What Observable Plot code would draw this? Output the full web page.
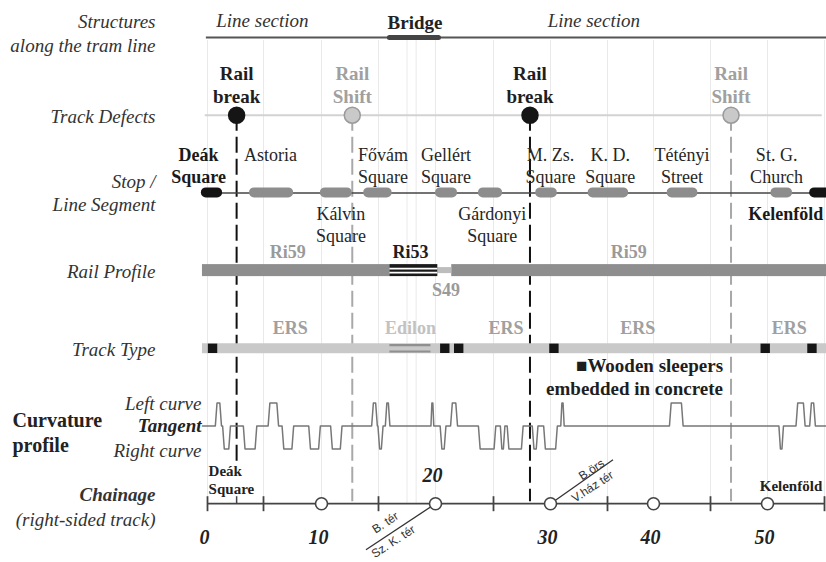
<!DOCTYPE html>
<html><head><meta charset="utf-8">
<script src="https://cdn.jsdelivr.net/npm/d3@7"></script>
<script src="https://cdn.jsdelivr.net/npm/@observablehq/plot@0.6"></script>
<style>html,body{margin:0;padding:0;background:#fff;} svg{display:block;}</style>
</head><body><div id="chart"></div>
<script>
// ================= DATA =================
// Chainage axis (schematic, piecewise)
const chainStops = [0,5,10,15,20,25,30,35,40,45,50,55];
const chainTicks = [0,5,15,25,35,45,55];
const chainCircles = [10,20,30,40,50];
const chainLabels = ["0","10","20","30","40","50"];
const chainLabelAt = [0,10,20,30,40,50];
const gridAt = [0,5,10,15,17.5,18.3,20,25,30,35,40,45,50,55];

// Structures
const sectionLabels = ["Line section","Bridge","Line section"];
const sectionLabelAt = [4.9,18.2,33.8];
const sectionKind = ["line","bridge","line"];
const bridgeSpan = [16.0,20.3];

// Track defects
const defectLabels = ["Rail\nbreak","Rail\nShift","Rail\nbreak","Rail\nShift"];
const defectKind = ["break","shift","break","shift"];
const defectAt = [2.6,12.7,28.2,46.8];

// Stops / line segments
const stopNames = ["Deák\nSquare","Astoria","Kálvin\nSquare","Fővám\nSquare","Gellért\nSquare","Gárdonyi\nSquare","M. Zs.\nSquare","K. D.\nSquare","Tétényi\nStreet","St. G.\nChurch","Kelenföld"];
const stopFrom = [-0.55,3.75,9.9,13.7,20.0,23.7,28.7,33.3,41.2,50.3,53.7];
const stopTo   = [1.35,7.6,12.7,16.2,21.9,25.8,30.6,37.3,43.9,52.2,55.6];
const stopTerminal = [true,false,false,false,false,false,false,false,false,false,true];
const stopLabelAt = [-0.8,5.6,11.7,15.4,20.9,24.9,30.0,35.3,42.5,50.8,51.6];
const stopLabelSide = ["above","above","below","above","above","below","above","above","above","above","below"];

// Rail profile
const railType = ["Ri59","Ri53","S49","Ri59"];
const railFrom = [-0.45,16.0,20.2,21.4];
const railTo   = [16.0,20.2,21.4,55.3];
const railLabels = ["Ri59","Ri53","S49","Ri59"];
const railLabelAt = [7.1,17.8,20.9,37.3];
const railLabelSide = ["above","above","below","above"];

// Track type
const trackSpan = [-0.45,55.3];
const edilonSpan = [16.0,19.6];
const sleeperAt = [0.45,20.8,22.0,30.3,49.8,53.9];
const trackLabels = ["ERS","Edilon","ERS","ERS","ERS"];
const trackLabelAt = [7.3,17.8,26.1,38.3,51.9];
const sleeperNote = "■Wooden sleepers\nembedded in concrete";
const sleeperNoteAt = 46.1;

// Curvature profile: +1 left curve, -1 right curve
const curveFrom = [0.7,1.35,3.2,5.4,6.6,8.9,10.8,14.4,14.95,15.6,19.6,20.4,21.3,23.7,25.6,26.2,28.4,29.4,30.9,41.4,51.0,52.5,53.7];
const curveTo   = [1.25,2.05,4.4,6.3,7.6,9.9,11.8,14.9,15.4,16.0,19.85,20.9,21.9,25.2,26.0,27.6,28.9,30.6,31.2,42.6,51.4,53.3,54.2];
const curveDir  = [1,-1,-1,1,-1,-1,-1,1,-1,1,1,-1,1,-1,-1,-1,-1,-1,1,1,-1,1,1];

// Interchange notes on chainage
const xferAt = [20,30];
const xferTop = ["B. tér","B.örs"];
const xferBottom = ["Sz. K. tér","V.ház tér"];

// ================= LAYOUT =================
const X_RANGE = [207,263,321,378,435,493,550,607,653,710,767,824];
const ROW_TOP = 37, ROW_BOTTOM = 503.2, ROW_H = (ROW_BOTTOM - ROW_TOP) / 6;
const o = px => px / ROW_H;
const R = {structures:0, defects:1, stops:2, rail:3, track:4, curve:5, chain:6};
const SERIF = "'Liberation Serif','Times New Roman',serif";
const SANS = "'Liberation Sans',Arial,sans-serif";
const INK = "#262626";

// ---- derived tables ----
const sections = sectionLabels.map((t,i)=>({t, x:sectionLabelAt[i], k:sectionKind[i]}));
const defects = defectLabels.map((t,i)=>({t, k:defectKind[i], x:defectAt[i], i}));
const stops = stopNames.map((t,i)=>({t, x1:stopFrom[i], x2:stopTo[i], term:stopTerminal[i], lx:stopLabelAt[i], side:stopLabelSide[i]}));
const rails = railType.map((t,i)=>({t, x1:railFrom[i], x2:railTo[i]}));
const railLbl = railLabels.map((t,i)=>({t, x:railLabelAt[i], side:railLabelSide[i]}));
const trackLbl = trackLabels.map((t,i)=>({t, x:trackLabelAt[i]}));
const curvePts = [{x:-0.45, v:0}];
curveFrom.forEach((s,i)=>{
  const e = curveTo[i], d = Math.min(0.15,(e-s)/3), v = curveDir[i];
  curvePts.push({x:s,v:0},{x:s+d,v},{x:e-d,v},{x:e,v:0});
});
curvePts.push({x:55.3, v:0});
const chainLbl = chainLabels.map((t,i)=>({t, x:chainLabelAt[i]}));
const xfer = xferAt.map((x,i)=>({x, top:xferTop[i], bottom:xferBottom[i]}));

const left = (text, y, opts={}) => Plot.text([text], {text:d=>d, y:()=>y, frameAnchor:"left", dx:155, textAnchor:"end", fontSize:19, fontStyle:"italic", fill:"#333", lineAnchor:"middle", lineHeight:1.25, ...opts});
const stopY = d => d.side==="above" ? R.stops - o(47) : R.stops + o(12);

const chart = Plot.plot({
  width: 826, height: 562, margin: 0,
  x: {type:"linear", domain: chainStops, range: X_RANGE, axis: null},
  y: {type:"linear", domain: [0,6], range: [ROW_TOP, ROW_BOTTOM], axis: null},
  style: {fontFamily: SERIF, background: "#fff", overflow: "visible"},
  marks: [
    // faint grid
    Plot.ruleX(gridAt, {x:d=>d, y1:()=>R.structures+o(3), y2:()=>R.chain, stroke:"#e9e9e9", strokeWidth:1}),

    // ---- Structures ----
    Plot.ruleY([0], {x1:()=>-0.1, x2:()=>55.3, y:()=>R.structures, stroke:"#555", strokeWidth:2}),
    Plot.ruleY([bridgeSpan], {x1:d=>d[0], x2:d=>d[1], y:()=>R.structures, stroke:"#444", strokeWidth:5, strokeLinecap:"round"}),
    Plot.text(sections.filter(d=>d.k!=="bridge"), {x:"x", y:()=>R.structures - o(17), text:"t", fontSize:19, fontStyle:"italic", fill:"#333"}),
    Plot.text(sections.filter(d=>d.k==="bridge"), {x:"x", y:()=>R.structures - o(15), text:"t", fontSize:19, fontWeight:"bold", fill:"#222"}),
    left("Structures\nalong the tram line", R.structures - o(5)),

    // ---- Track defects ----
    Plot.ruleY([0], {x1:()=>-0.2, x2:()=>54.8, y:()=>R.defects, stroke:"#d2d2d2", strokeWidth:2}),
    Plot.ruleX(defects, {x:"x", y1:()=>R.defects, y2:d=>d.i===0 ? R.chain - o(38) : R.chain - o(2),
      stroke:d=>d.k==="break"?"#111":"#a8a8a8", strokeWidth:2, strokeDasharray:"16,6"}),
    Plot.dot(defects, {x:"x", y:()=>R.defects, r:8, fill:d=>d.k==="break"?"#151515":"#c9c9c9",
      stroke:d=>d.k==="break"?"#151515":"#9a9a9a", strokeWidth:1.5}),
    Plot.text(defects, {x:"x", y:()=>R.defects - o(31), text:"t", fontSize:19, fontWeight:"bold", lineHeight:1.2,
      fill:d=>d.k==="break"?"#1e1e1e":"#a0a0a0"}),
    left("Track Defects", R.defects),

    // ---- Stops ----
    Plot.ruleY([0], {x1:()=>-0.2, x2:()=>55.3, y:()=>R.stops, stroke:"#444", strokeWidth:1.5}),
    Plot.rect(stops, {x1:"x1", x2:"x2", y1:()=>R.stops - o(5), y2:()=>R.stops + o(5), rx:5,
      fill:d=>d.term?"#141414":"#8d8d8d"}),
    Plot.text(stops.filter(d=>!d.term), {x:"lx", y:stopY, text:"t", lineAnchor:"top", lineHeight:1.22, fontSize:18, fill:INK}),
    Plot.text(stops.filter(d=>d.term), {x:"lx", y:stopY, text:"t", lineAnchor:"top", lineHeight:1.22, fontSize:18, fill:"#1a1a1a", fontWeight:"bold"}),
    left("Stop /\nLine Segment", R.stops - o(1), {lineHeight:1.2}),

    // ---- Rail profile ----
    Plot.rect(rails.filter(d=>d.t==="Ri59"), {x1:"x1", x2:"x2", y1:()=>R.rail - o(6), y2:()=>R.rail + o(6), fill:"#8e8e8e"}),
    Plot.rect(rails.filter(d=>d.t==="S49"), {x1:"x1", x2:"x2", y1:()=>R.rail - o(3), y2:()=>R.rail + o(3), fill:"#bdbdbd"}),
    Plot.rect(rails.filter(d=>d.t==="Ri53"), {x1:"x1", x2:"x2", y1:()=>R.rail - o(6), y2:()=>R.rail + o(6), fill:"#1a1a1a"}),
    Plot.ruleY(rails.filter(d=>d.t==="Ri53"), {x1:"x1", x2:"x2", y:()=>R.rail - o(2), stroke:"#fff", strokeWidth:1.6}),
    Plot.ruleY(rails.filter(d=>d.t==="Ri53"), {x1:"x1", x2:"x2", y:()=>R.rail + o(2), stroke:"#fff", strokeWidth:1.6}),
    Plot.text(railLbl, {x:"x", y:d=>d.side==="above" ? R.rail - o(18) : R.rail + o(20), text:"t", fontSize:18, fontWeight:"bold",
      fill:d=>d.t==="Ri53" ? "#1e1e1e" : "#9a9a9a"}),
    left("Rail Profile", R.rail),

    // ---- Track type ----
    Plot.ruleY([trackSpan], {x1:d=>d[0], x2:d=>d[1], y:()=>R.track, stroke:"#c9c9c9", strokeWidth:10}),
    Plot.ruleY([edilonSpan], {x1:d=>d[0], x2:d=>d[1], y:()=>R.track - o(3.2), stroke:"#8f8f8f", strokeWidth:2.2}),
    Plot.ruleY([edilonSpan], {x1:d=>d[0], x2:d=>d[1], y:()=>R.track + o(3.2), stroke:"#8f8f8f", strokeWidth:2.2}),
    Plot.dot(sleeperAt, {x:d=>d, y:()=>R.track, symbol:"square", r:5.3, fill:"#161616"}),
    Plot.text(trackLbl, {x:"x", y:()=>R.track - o(20), text:"t", fontSize:18, fontWeight:"bold",
      fill:d=>d.t==="Edilon" ? "#c2c2c2" : "#a0a0a0"}),
    Plot.text([sleeperNote], {x:()=>sleeperNoteAt, y:()=>R.track + o(28), text:d=>d, textAnchor:"end", fontSize:19,
      fontWeight:"bold", fill:"#1e1e1e", lineHeight:1.17}),
    left("Track Type", R.track),

    // ---- Curvature ----
    Plot.line(curvePts, {x:"x", y:d=>R.curve - d.v*o(23), stroke:"#777", strokeWidth:1.5}),
    Plot.text(["Left curve"], {text:d=>d, y:()=>R.curve - o(22.5), frameAnchor:"left", dx:201, textAnchor:"end", fontSize:19, fontStyle:"italic", fill:"#333"}),
    Plot.text(["Tangent"], {text:d=>d, y:()=>R.curve, frameAnchor:"left", dx:201, textAnchor:"end", fontSize:19, fontStyle:"italic", fontWeight:"bold", fill:"#222"}),
    Plot.text(["Right curve"], {text:d=>d, y:()=>R.curve + o(24.5), frameAnchor:"left", dx:201, textAnchor:"end", fontSize:19, fontStyle:"italic", fill:"#333"}),
    Plot.text(["Curvature\nprofile"], {text:d=>d, y:()=>R.curve + o(5), frameAnchor:"left", dx:12, textAnchor:"start", fontSize:20, fontWeight:"bold", fill:"#222", lineHeight:1.25}),

    // ---- Chainage ----
    Plot.ruleY([0], {x1:()=>0, x2:()=>55, y:()=>R.chain, stroke:"#444", strokeWidth:1.8}),
    Plot.ruleX(chainTicks, {x:d=>d, y1:()=>R.chain - o(7), y2:()=>R.chain + o(8), stroke:"#444", strokeWidth:1.8}),
    Plot.ruleX([defectAt[0]], {x:d=>d, y1:()=>R.chain - o(7), y2:()=>R.chain, stroke:"#444", strokeWidth:1.5}),
    Plot.link(xfer, {x1:"x", y1:()=>R.chain, x2:d=>d.x===20 ? 13.9 : 35.6, y2:d=>d.x===20 ? R.chain + o(46) : R.chain - o(44), stroke:"#333", strokeWidth:1.3}),
    Plot.dot(chainCircles, {x:d=>d, y:()=>R.chain, r:6, fill:"#fff", stroke:"#444", strokeWidth:1.6}),
    Plot.text(xfer, {x:d=>d.x===20 ? 15.6 : 33.6, y:d=>d.x===20 ? R.chain + o(19) : R.chain - o(34), text:"top", rotate:-33, fontSize:12, fontFamily:SANS, fill:"#333"}),
    Plot.text(xfer, {x:d=>d.x===20 ? 16.3 : 33.7, y:d=>d.x===20 ? R.chain + o(38) : R.chain - o(17), text:"bottom", rotate:-33, fontSize:12, fontFamily:SANS, fill:"#333"}),
    Plot.text(chainLbl, {x:"x", y:d=>d.t==="20" ? R.chain - o(28) : R.chain + o(34), dx:-3, text:"t", fontSize:20, fontWeight:"bold", fontStyle:"italic", fill:"#222"}),
    Plot.text(["Deák\nSquare"], {x:()=>0.1, y:()=>R.chain - o(24), text:d=>d, textAnchor:"start", fontSize:15, fontWeight:"bold", fill:"#222", lineHeight:1.2}),
    Plot.text(["Kelenföld"], {x:()=>54.8, y:()=>R.chain - o(18), text:d=>d, textAnchor:"end", fontSize:15, fontWeight:"bold", fill:"#222"}),
    left("Chainage", R.chain - o(10), {fontWeight:"bold"}),
    left("(right-sided track)", R.chain + o(15))
  ]
});
document.getElementById("chart").appendChild(chart);
</script>
</body></html>
